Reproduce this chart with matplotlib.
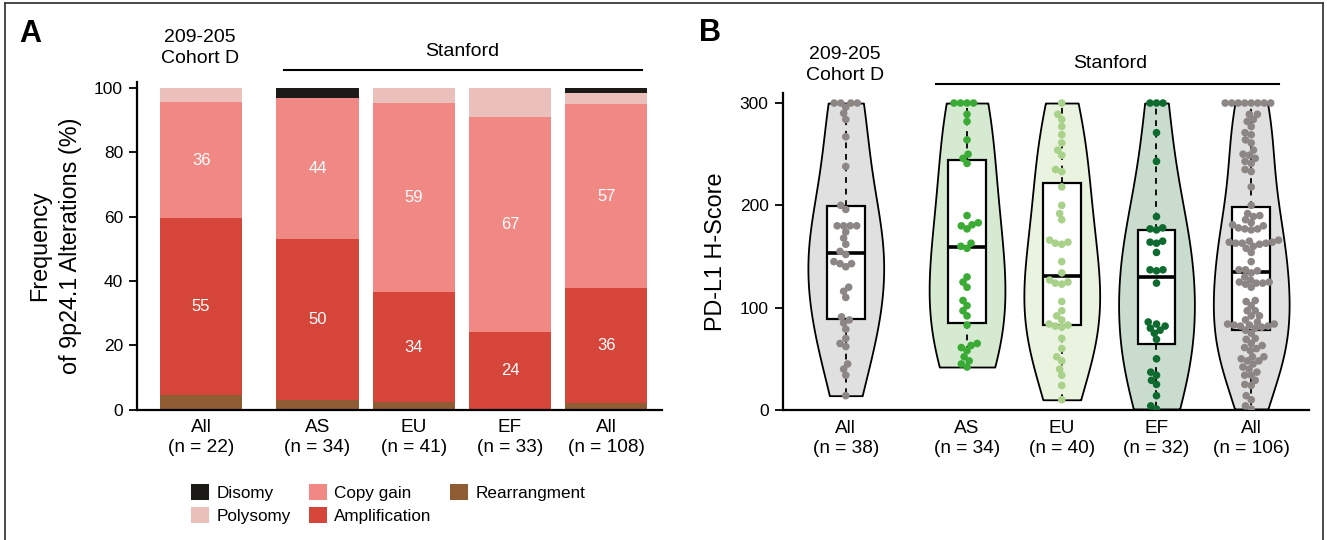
import numpy as np
import matplotlib
matplotlib.use("Agg")
import matplotlib.pyplot as plt
from matplotlib.patches import Patch
from matplotlib.lines import Line2D

plt.rcParams['font.family'] = ['Liberation Sans', 'DejaVu Sans']

# ---------------- data: panel A ----------------
a_labels = ["All\n(n = 22)", "AS\n(n = 34)", "EU\n(n = 41)", "EF\n(n = 33)", "All\n(n = 108)"]
a_rearr = [4.5, 2.9, 2.4, 0.0, 1.9]
a_ampl = [55, 50, 34, 24, 36]
a_copy = [36, 44, 59, 67, 57]
a_poly = [4.5, 0.0, 4.6, 9.0, 3.7]
a_diso = [0.0, 3.1, 0.0, 0.0, 1.4]
a_ampl_txt = ["55", "50", "34", "24", "36"]
a_copy_txt = ["36", "44", "59", "67", "57"]

# ---------------- data: panel B ----------------
b_labels = ["All\n(n = 38)", "AS\n(n = 34)", "EU\n(n = 40)", "EF\n(n = 32)", "All\n(n = 106)"]
b_all38 = [14, 34, 40, 45, 62, 65, 70, 79, 85, 88, 91, 110, 116, 120, 140, 143, 143, 145,
           152, 155, 162, 168, 174, 180, 180, 180, 180, 196, 200, 238, 267, 284, 290, 296,
           300, 300, 300, 300]
b_as = [42, 45, 48, 52, 58, 61, 63, 65, 83, 92, 97, 102, 107, 120, 125, 130, 158, 160, 163,
        177, 180, 181, 183, 190, 241, 246, 250, 264, 282, 289, 300, 300, 300, 300]
b_eu = [10, 24, 34, 40, 48, 52, 60, 70, 81, 82, 83, 84, 88, 92, 97, 106, 123, 124, 125, 127,
        134, 145, 162, 163, 164, 166, 186, 192, 200, 218, 233, 235, 249, 254, 261, 269, 277,
        284, 289, 300]
b_ef = [1, 4, 14, 25, 29, 34, 37, 50, 69, 75, 78, 80, 82, 84, 86, 124, 136, 137, 137, 154,
        163, 164, 165, 176, 177, 178, 189, 243, 271, 300, 300, 300]
b_all106 = b_as + b_eu + b_ef
b_groups = [b_all38, b_as, b_eu, b_ef, b_all106]

# ---------------- styles ----------------
W, H = 1327, 540
def fx(x): return x / W
def fy(y): return 1 - y / H

c_diso, c_poly, c_copy, c_ampl, c_rearr = "#1b1a17", "#ecc0ba", "#f08884", "#d64539", "#8f5c34"
violin_fc = ["#e0e0e0", "#d6ead2", "#e9f3df", "#c9dccd", "#e0e0e0"]
dot_c = ["#8c8785", "#3aab34", "#a9d18a", "#0f6a2f", "#8c8785"]

fig = plt.figure(figsize=(W / 100, H / 100), dpi=100)

# frame
for (x0, y0, x1, y1) in [(4.5, 540, 4.5, 3), (4.5, 3, 1323, 3), (1323, 3, 1323, 540)]:
    fig.add_artist(Line2D([fx(x0), fx(x1)], [fy(y0), fy(y1)], color="#3a3a3a", lw=1.3))

# ================= Panel A =================
axA = fig.add_axes([fx(137), fy(409.5), (662 - 137) / W, (409.5 - 81.6) / H])
posA = np.array([0, 1.21, 2.21, 3.21, 4.21])
wA = 0.853
bottom = np.zeros(5)
layers = [(a_rearr, c_rearr), (a_ampl, c_ampl), (a_copy, c_copy), (a_poly, c_poly), (a_diso, c_diso)]
conts = []
for vals, col in layers:
    bc = axA.bar(posA, vals, wA, bottom=bottom, color=col, edgecolor="none", zorder=2)
    conts.append(bc)
    bottom = bottom + np.array(vals)
axA.bar_label(conts[1], labels=a_ampl_txt, label_type="center", color="white", fontsize=12)
axA.bar_label(conts[2], labels=a_copy_txt, label_type="center", color="white", fontsize=12)

axA.set_xlim(-0.666, 4.79)
axA.set_ylim(0, 102)
axA.set_yticks([0, 20, 40, 60, 80, 100])
axA.set_xticks(posA)
axA.set_xticklabels(a_labels, fontsize=13.7, linespacing=1.25)
axA.tick_params(axis="x", length=0, pad=7)
axA.tick_params(axis="y", labelsize=12.5, length=6, width=1.3, pad=4)
for s in ["top", "right"]:
    axA.spines[s].set_visible(False)
for s in ["left", "bottom"]:
    axA.spines[s].set_linewidth(1.6)
axA.set_ylabel("Frequency\nof 9p24.1 Alterations (%)", fontsize=16.8, linespacing=1.45)
axA.yaxis.set_label_coords(-0.105, 0.5)

fig.text(fx(30), fy(34), "A", fontsize=22, fontweight="bold", ha="center", va="center")
fig.text(fx(200), fy(48), "209-205\nCohort D", fontsize=14, ha="center", va="center", linespacing=1.3)
fig.text(fx(462), fy(52), "Stanford", fontsize=14, ha="center", va="center")
fig.add_artist(Line2D([fx(284), fx(642)], [fy(69.5), fy(69.5)], color="black", lw=1.5))

handles = [Patch(facecolor=c_diso), Patch(facecolor=c_poly), Patch(facecolor=c_copy),
           Patch(facecolor=c_ampl), Patch(facecolor=c_rearr)]
names = ["Disomy", "Polysomy", "Copy gain", "Amplification", "Rearrangment"]
fig.legend(handles, names, ncol=3, loc="center", bbox_to_anchor=(fx(388), fy(504)),
           frameon=False, fontsize=12.3, handlelength=1.05, handleheight=1.05,
           handletextpad=0.45, columnspacing=1.05, labelspacing=0.38, borderpad=0)

# ================= Panel B =================
axB = fig.add_axes([fx(782.5), fy(410), (1309 - 782.5) / W, (410 - 92.8) / H])
posB = np.array([0, 1.28, 2.28, 3.28, 4.28])
axB.set_xlim(-0.668, 4.89)
axB.set_ylim(0, 310)

for i, g in enumerate(b_groups):
    n = len(g)
    vp = axB.violinplot([g], positions=[posB[i]], widths=0.8, showextrema=False,
                        bw_method=1.45 * n ** (-0.2), points=300)
    for b in vp["bodies"]:
        b.set_facecolor(violin_fc[i])
        b.set_edgecolor("black")
        b.set_linewidth(1.3)
        b.set_alpha(1)
        b.set_zorder(1)

bp = axB.boxplot(b_groups, positions=posB, widths=0.4, whis=(0, 100), patch_artist=True,
                 showcaps=False, showfliers=False, zorder=2,
                 boxprops=dict(facecolor="white", edgecolor="black", linewidth=1.6),
                 medianprops=dict(color="black", linewidth=2.6),
                 whiskerprops=dict(color="black", linewidth=1.3, linestyle=(0, (3.2, 3.2))))
for b in bp["boxes"]:
    b.set_zorder(3)
for m in bp["medians"]:
    m.set_zorder(3.5)

# swarm layout (computed in pixel space)
d = 6.5
t = axB.transData
x0p, y0p = t.transform((0, 0))
x1p, y1p = t.transform((1, 1))
sx, sy = x1p - x0p, y1p - y0p

def swarm(vals):
    vals = np.asarray(vals, float)
    ypx = vals * sy
    order = np.argsort(vals, kind="stable")
    placed_x, placed_y = [], []
    xs = np.zeros(len(vals))
    for k in order:
        y = ypx[k]
        px_ = np.array(placed_x); py_ = np.array(placed_y)
        cands = [0.0]
        if len(px_):
            near = np.abs(py_ - y) < d
            for xx, yy in zip(px_[near], py_[near]):
                dx = np.sqrt(max(d * d - (yy - y) ** 2, 0))
                cands += [xx - dx, xx + dx]
        cands = sorted(cands, key=lambda c: (abs(c), c))
        chosen = 0.0
        for c in cands:
            ok = True
            if len(px_):
                dd = (px_ - c) ** 2 + (py_ - y) ** 2
                ok = np.all(dd >= d * d - 1e-6)
            if ok:
                chosen = c
                break
        xs[k] = chosen
        placed_x.append(chosen); placed_y.append(y)
    return xs / sx

for i, g in enumerate(b_groups):
    off = swarm(g)
    axB.scatter(posB[i] + off, g, s=30, color=dot_c[i], edgecolor="none", zorder=4)

axB.set_yticks([0, 100, 200, 300])
axB.set_xticks(posB)
axB.set_xticklabels(b_labels, fontsize=13.7, linespacing=1.25)
axB.tick_params(axis="x", length=0, pad=7)
axB.tick_params(axis="y", labelsize=12.5, length=6, width=1.3, pad=4)
for s in ["top", "right"]:
    axB.spines[s].set_visible(False)
for s in ["left", "bottom"]:
    axB.spines[s].set_linewidth(1.6)
axB.set_ylabel("PD-L1 H-Score", fontsize=16.8)
axB.yaxis.set_label_coords(-0.105, 0.5)

fig.text(fx(710), fy(33), "B", fontsize=22, fontweight="bold", ha="center", va="center")
fig.text(fx(845), fy(65), "209-205\nCohort D", fontsize=14, ha="center", va="center", linespacing=1.3)
fig.text(fx(1110), fy(64), "Stanford", fontsize=14, ha="center", va="center")
fig.add_artist(Line2D([fx(936), fx(1279)], [fy(84), fy(84)], color="black", lw=1.5))

fig.savefig("out.png", dpi=100)
